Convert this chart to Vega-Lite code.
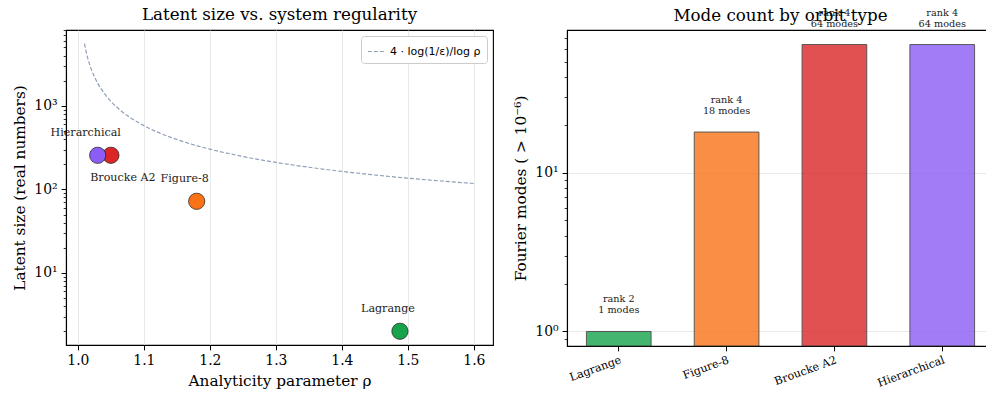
{
  "$schema": "https://vega.github.io/schema/vega-lite/v6.json",
  "padding": {"left": 12, "top": 6, "right": 0, "bottom": 0},
  "background": "white",
  "datasets": {
    "curve": [
      {"rho": 1.01, "latent": 5553.8},
      {"rho": 1.0125, "latent": 4448.6},
      {"rho": 1.015, "latent": 3711.7},
      {"rho": 1.02, "latent": 2790.6},
      {"rho": 1.025, "latent": 2238.0},
      {"rho": 1.03, "latent": 1869.6},
      {"rho": 1.035, "latent": 1606.4},
      {"rho": 1.04, "latent": 1409.0},
      {"rho": 1.045, "latent": 1255.5},
      {"rho": 1.05, "latent": 1132.6},
      {"rho": 1.06, "latent": 948.4},
      {"rho": 1.07, "latent": 816.8},
      {"rho": 1.08, "latent": 718.0},
      {"rho": 1.1, "latent": 579.8},
      {"rho": 1.12, "latent": 487.6},
      {"rho": 1.15, "latent": 395.4},
      {"rho": 1.2, "latent": 303.1},
      {"rho": 1.25, "latent": 247.7},
      {"rho": 1.3, "latent": 210.6},
      {"rho": 1.35, "latent": 184.1},
      {"rho": 1.4, "latent": 164.2},
      {"rho": 1.45, "latent": 148.7},
      {"rho": 1.5, "latent": 136.3},
      {"rho": 1.55, "latent": 126.1},
      {"rho": 1.6, "latent": 117.6}
    ],
    "orbits": [
      {"orbit": "Lagrange", "rho": 1.488, "latent": 2, "rank": 2, "modes": 1, "label": "rank 2\n1 modes"},
      {"orbit": "Figure-8", "rho": 1.18, "latent": 72, "rank": 4, "modes": 18, "label": "rank 4\n18 modes"},
      {"orbit": "Broucke A2", "rho": 1.05, "latent": 256, "rank": 4, "modes": 64, "label": "rank 4\n64 modes"},
      {"orbit": "Hierarchical", "rho": 1.03, "latent": 256, "rank": 4, "modes": 64, "label": "rank 4\n64 modes"}
    ]
  },
  "hconcat": [
    {
      "width": 427,
      "height": 315,
      "title": {"text": "Latent size vs. system regularity", "fontSize": 16.7, "fontWeight": "normal", "font": "DejaVu Serif", "offset": 6},
      "layer": [
        {
          "data": {"name": "curve"},
          "mark": {"type": "line", "strokeDash": [4, 2], "strokeWidth": 1.2, "interpolate": "monotone"},
          "encoding": {
            "x": {"field": "rho", "type": "quantitative"},
            "y": {"field": "latent", "type": "quantitative",
                  "axis": {"orient": "left", "values": [2,3,4,5,6,7,8,9,20,30,40,50,60,70,80,90,200,300,400,500,600,700,800,900,2000,3000,4000,5000,6000,7000,8000],
                           "labels": false, "grid": false, "domain": false, "tickSize": 2.8, "title": null, "tickColor": "black", "tickWidth": 0.8}},
            "color": {"datum": "4 · log(1/ε)/log ρ", "type": "nominal",
                      "scale": {"range": ["#8f9fb8"]},
                      "legend": {"title": null, "orient": "top-right", "offset": 6, "symbolType": "stroke", "symbolDash": [4, 2], "symbolStrokeWidth": 1.2, "symbolSize": 300,
                                 "labelFont": "DejaVu Sans", "labelFontSize": 11, "labelColor": "black", "fillColor": "white", "strokeColor": "#cccccc", "cornerRadius": 3, "padding": 6}}
          }
        },
        {
          "data": {"name": "orbits"},
          "mark": {"type": "circle", "size": 265, "opacity": 1, "stroke": "#1a1a1a", "strokeWidth": 0.7},
          "encoding": {
            "x": {"field": "rho", "type": "quantitative",
                  "scale": {"domain": [0.982, 1.629], "nice": false, "zero": false},
                  "axis": {"values": [1.0, 1.1, 1.2, 1.3, 1.4, 1.5, 1.6], "format": ".1f", "title": "Analyticity parameter ρ"}},
            "y": {"field": "latent", "type": "quantitative",
                  "scale": {"type": "log", "domain": [1.37, 8100], "nice": false},
                  "axis": {"orient": "left", "values": [10, 100, 1000], "title": "Latent size (real numbers)",
                           "labelExpr": "'10' + ['⁰','¹','²','³','⁴'][round(log(datum.value)/LN10)]"}},
            "color": {"field": "orbit", "type": "nominal",
                      "scale": {"domain": ["Lagrange", "Figure-8", "Broucke A2", "Hierarchical"], "range": ["#16a34a", "#f97316", "#dc2626", "#8b5cf6"]},
                      "legend": null},
            "order": {"field": "rank"}
          }
        },
        {
          "data": {"name": "orbits"},
          "transform": [{"filter": "datum.orbit != 'Broucke A2'"}],
          "mark": {"type": "text", "fontSize": 11.1, "dx": -12, "dy": -22, "color": "#222222"},
          "encoding": {
            "x": {"field": "rho", "type": "quantitative"},
            "y": {"field": "latent", "type": "quantitative", "axis": null},
            "text": {"field": "orbit"}
          }
        },
        {
          "data": {"name": "orbits"},
          "transform": [{"filter": "datum.orbit == 'Broucke A2'"}],
          "mark": {"type": "text", "fontSize": 11.1, "dx": 12, "dy": 23, "color": "#222222"},
          "encoding": {
            "x": {"field": "rho", "type": "quantitative"},
            "y": {"field": "latent", "type": "quantitative", "axis": null},
            "text": {"field": "orbit"}
          }
        }
      ],
      "resolve": {"scale": {"color": "independent"}, "axis": {"y": "independent"}}
    },
    {
      "width": 427,
      "height": 316,
      "title": {"text": "Mode count by orbit type", "fontSize": 16.7, "fontWeight": "normal", "font": "DejaVu Serif", "offset": 5, "dy": 22},
      "data": {"name": "orbits"},
      "layer": [
        {
          "mark": {"type": "bar", "opacity": 0.8, "stroke": "#222222", "strokeWidth": 0.9},
          "encoding": {
            "x": {"field": "orbit", "type": "nominal", "sort": ["Lagrange", "Figure-8", "Broucke A2", "Hierarchical"],
                  "scale": {"paddingInner": 0.4, "paddingOuter": 0.18},
                  "axis": {"title": null, "labelAngle": -20, "labelAlign": "right", "labelBaseline": "top", "labelFontSize": 11.1, "grid": false, "labelPadding": 3}},
            "y": {"field": "modes", "type": "quantitative",
                  "scale": {"type": "log", "domain": [0.81, 79], "nice": false},
                  "axis": {"orient": "left", "values": [1, 10], "title": "Fourier modes ( > 10⁻⁶)",
                           "labelExpr": "'10' + ['⁰','¹','²'][round(log(datum.value)/LN10)]"}},
            "y2": {"datum": 0.81},
            "color": {"field": "orbit", "type": "nominal",
                      "scale": {"domain": ["Lagrange", "Figure-8", "Broucke A2", "Hierarchical"], "range": ["#16a34a", "#f97316", "#dc2626", "#8b5cf6"]},
                      "legend": null}
          }
        },
        {
          "mark": {"type": "text", "fontSize": 9.7, "baseline": "bottom", "dy": -27, "lineBreak": "\n", "lineHeight": 11, "color": "#222222"},
          "encoding": {
            "x": {"field": "orbit", "type": "nominal", "sort": ["Lagrange", "Figure-8", "Broucke A2", "Hierarchical"]},
            "y": {"field": "modes", "type": "quantitative", "axis": null},
            "text": {"field": "label"}
          }
        },
        {
          "mark": {"type": "tick", "opacity": 0},
          "encoding": {
            "y": {"field": "modes", "type": "quantitative",
                  "axis": {"orient": "left", "values": [0.9, 2, 3, 4, 5, 6, 7, 8, 9, 20, 30, 40, 50, 60, 70],
                           "labels": false, "grid": false, "domain": false, "tickSize": 2.8, "title": null, "tickColor": "black", "tickWidth": 0.8}}
          }
        }
      ],
      "resolve": {"axis": {"y": "independent"}}
    }
  ],
  "spacing": 74,
  "bounds": "flush",
  "config": {
    "font": "DejaVu Serif",
    "view": {"stroke": "black", "strokeWidth": 1.1},
    "axis": {
      "labelFont": "DejaVu Serif", "titleFont": "DejaVu Serif",
      "labelFontSize": 13.9, "titleFontSize": 15.3, "titleFontWeight": "normal",
      "labelColor": "black", "titleColor": "black",
      "domainColor": "black", "domainWidth": 1.1,
      "tickColor": "black", "tickSize": 4.9, "tickWidth": 1,
      "gridColor": "#e6e6e6", "gridWidth": 0.9,
      "labelPadding": 4, "titlePadding": 6
    },
    "axisX": {"grid": true},
    "axisY": {"grid": true}
  }
}
